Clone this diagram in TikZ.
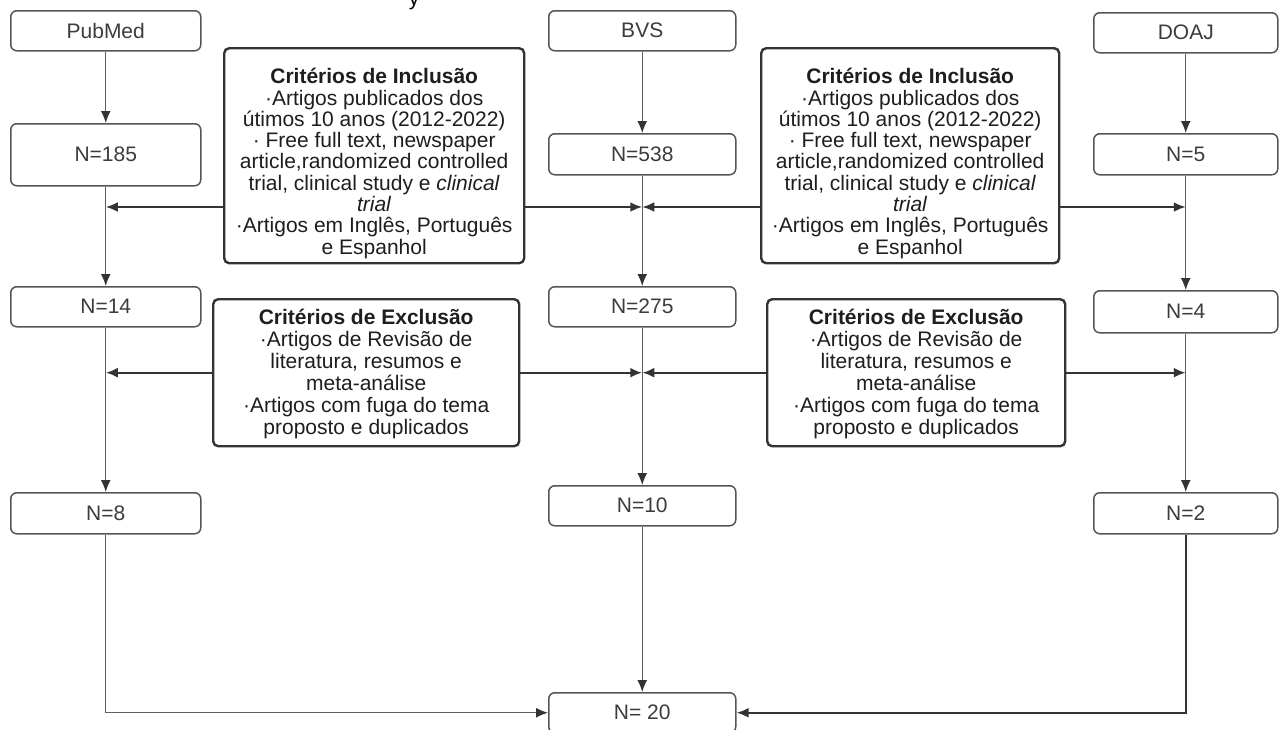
\documentclass[tikz,border=0pt]{standalone}
\usepackage{fontspec}
\setmainfont{Liberation Sans}
\usetikzlibrary{arrows.meta}
\definecolor{boxline}{HTML}{555555}
\definecolor{critline}{HTML}{333333}
\definecolor{conn}{HTML}{5F5F5F}
\definecolor{labtxt}{HTML}{3C3C3C}
\definecolor{crittxt}{HTML}{1E1E1E}
\begin{document}
\begin{tikzpicture}[x=1pt,y=-1pt,
  nbox/.style={draw=boxline, line width=1.5pt, rounded corners=6pt, anchor=north west, inner sep=0pt,
    text=labtxt, font=\fontsize{21}{21}\selectfont},
  critbox/.style={draw=critline, line width=2.4pt, rounded corners=5pt, anchor=north west, inner sep=0pt},
  crittext/.style={align=center, text=crittxt, inner sep=0pt},
  flow/.style={draw=conn, line width=1.4pt, -{Latex[length=12pt,width=10pt,color=critline]}},
  side/.style={draw=critline, line width=2.4pt, -{Latex[length=12pt,width=10pt]}},
]
\useasboundingbox[fill=white] (0,0) rectangle (1282,729);

% caption fragment at top edge
\node[anchor=base, inner sep=0pt, font=\fontsize{21}{21}\selectfont] (frag) at (414,5.6) {y};

% column boxes
\node[nbox, minimum width=190pt, minimum height=40pt] (pub) at (10,10) {PubMed};
\node[nbox, minimum width=187pt, minimum height=40pt] (bvs) at (548,10) {BVS};
\node[nbox, minimum width=184pt, minimum height=40pt] (doaj) at (1093,12) {DOAJ};

\node[nbox, minimum width=190pt, minimum height=62pt] (n185) at (10,123) {N=185};
\node[nbox, minimum width=187pt, minimum height=41pt] (n538) at (548,133) {N=538};
\node[nbox, minimum width=184pt, minimum height=41pt] (n5) at (1093,133) {N=5};

\node[nbox, minimum width=190pt, minimum height=40pt] (n14) at (10,286) {N=14};
\node[nbox, minimum width=187pt, minimum height=40pt] (n275) at (548,286) {N=275};
\node[nbox, minimum width=184pt, minimum height=42pt] (n4) at (1093,290) {N=4};

\node[nbox, minimum width=190pt, minimum height=41pt] (n8) at (10,492) {N=8};
\node[nbox, minimum width=187pt, minimum height=40pt] (n10) at (548,485) {N=10};
\node[nbox, minimum width=184pt, minimum height=41pt] (n2) at (1093,492) {N=2};

\node[nbox, minimum width=187pt, minimum height=40pt] (n20) at (548,692) {N= 20};

% criteria boxes
\node[critbox, minimum width=300pt, minimum height=215pt] (incL) at (223,47) {};
\node[critbox, minimum width=298pt, minimum height=215pt] (incR) at (760,47) {};
\node[critbox, minimum width=306pt, minimum height=147pt] (excL) at (212,298) {};
\node[critbox, minimum width=298pt, minimum height=147pt] (excR) at (766,298) {};

\node[crittext, font=\fontsize{21}{21.3}\selectfont] (incLt) at ([yshift=-7.7pt]incL.center)
 {\textbf{Critérios de Inclusão}\\ ·Artigos publicados dos\\ útimos 10 anos (2012-2022)\\
  · Free full text, newspaper\\ article,randomized controlled\\ trial, clinical study e \textit{clinical}\\
  \textit{trial}\\ ·Artigos em Inglês, Português\\ e Espanhol};
\node[crittext, font=\fontsize{21}{21.3}\selectfont] (incRt) at ([yshift=-7.7pt]incR.center)
 {\textbf{Critérios de Inclusão}\\ ·Artigos publicados dos\\ útimos 10 anos (2012-2022)\\
  · Free full text, newspaper\\ article,randomized controlled\\ trial, clinical study e \textit{clinical}\\
  \textit{trial}\\ ·Artigos em Inglês, Português\\ e Espanhol};
\node[crittext, font=\fontsize{21}{22}\selectfont] (excLt) at ([yshift=-1.7pt]excL.center)
 {\textbf{Critérios de Exclusão}\\ ·Artigos de Revisão de\\ literatura, resumos e\\ meta-análise\\
  ·Artigos com fuga do tema\\ proposto e duplicados};
\node[crittext, font=\fontsize{21}{22}\selectfont] (excRt) at ([yshift=-1.7pt]excR.center)
 {\textbf{Critérios de Exclusão}\\ ·Artigos de Revisão de\\ literatura, resumos e\\ meta-análise\\
  ·Artigos com fuga do tema\\ proposto e duplicados};

% vertical flows
\draw[flow] (pub.south) -- (n185.north);
\draw[flow] (n185.south) -- (n14.north);
\draw[flow] (n14.south) -- (n8.north);
\draw[flow] (bvs.south) -- (n538.north);
\draw[flow] (n538.south) -- (n275.north);
\draw[flow] (n275.south) -- (n10.north);
\draw[flow] (n10.south) -- (n20.north);
\draw[flow] (doaj.south) -- (n5.north);
\draw[flow] (n5.south) -- (n4.north);
\draw[flow] (n4.south) -- (n2.north);

% criteria side arrows
\coordinate (r1) at (0,207);
\draw[side] (incL.west |- r1) -- (pub.south |- r1);
\draw[side] (incL.east |- r1) -- (bvs.south |- r1);
\draw[side] (incR.west |- r1) -- (bvs.south |- r1);
\draw[side] (incR.east |- r1) -- (doaj.south |- r1);
\draw[side] (excL.west) -- (pub.south |- excL.west);
\draw[side] (excL.east) -- (bvs.south |- excL.east);
\draw[side] (excR.west) -- (bvs.south |- excR.west);
\draw[side] (excR.east) -- (doaj.south |- excR.east);

% to final
\draw[flow] (n8.south) |- (n20.west);
\draw[side] (n2.south) |- (n20.east);
\end{tikzpicture}
\end{document}
